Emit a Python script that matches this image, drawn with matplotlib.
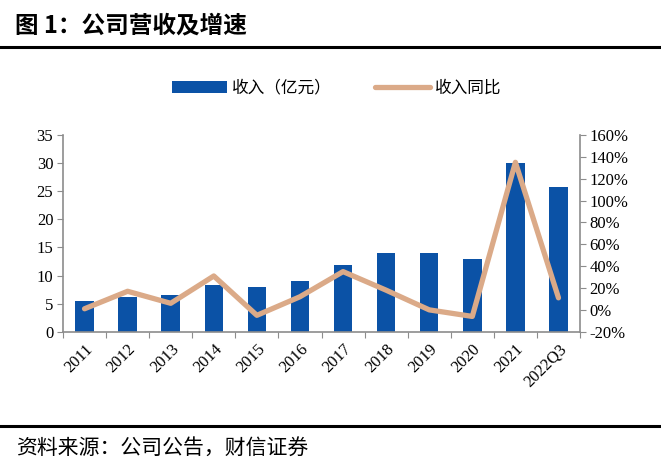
import matplotlib
matplotlib.use("Agg")
import matplotlib.pyplot as plt
import numpy as np
from matplotlib.ticker import FuncFormatter, FixedLocator

categories = ["2011", "2012", "2013", "2014", "2015", "2016", "2017", "2018",
              "2019", "2020", "2021", "2022Q3"]
revenue = [5.5, 6.2, 6.5, 8.3, 8.0, 9.0, 11.9, 14.0, 14.0, 12.9, 30.0, 25.7]
growth = [1, 17, 6, 31, -5, 12, 35, 18, 0, -6, 135, 11]
left_ticks = [0, 5, 10, 15, 20, 25, 30, 35]
right_ticks = [-20, 0, 20, 40, 60, 80, 100, 120, 140, 160]

title = "图 1：公司营收及增速"
source = "资料来源：公司公告，财信证券"
bar_label = "收入（亿元）"
line_label = "收入同比"

cjk = ["Noto Sans CJK SC", "DejaVu Sans"]
serif = ["Liberation Serif", "DejaVu Serif"]

bar_color = "#0B52A6"
line_color = "#DBAA88"
spine_color = "#8C8C8C"

fig = plt.figure(figsize=(6.61, 4.72), dpi=100)
ax = fig.add_axes([0.0953, 0.2972, 0.7822, 0.4168])
ax2 = ax.twinx()

x = np.arange(len(categories))
bars = ax.bar(x, revenue, width=0.43, color=bar_color, zorder=2)
line, = ax2.plot(x, growth, color=line_color, lw=3.8, solid_capstyle="round",
                 solid_joinstyle="round", zorder=3)

ax.set_xlim(-0.5, len(categories) - 0.5)
ax.set_ylim(0, 35)
ax2.set_ylim(-20, 160)
ax.set_yticks(left_ticks)
ax2.set_yticks(right_ticks)
ax2.yaxis.set_major_formatter(FuncFormatter(lambda v, p: f"{int(v)}%"))

ax.xaxis.set_major_locator(FixedLocator(np.arange(-0.5, len(categories), 1.0)))
ax.set_xticklabels([])
ax.xaxis.set_minor_locator(FixedLocator(x))
ax.set_xticklabels(categories, minor=True, rotation=45, ha="right",
                   rotation_mode="anchor", fontfamily=serif, fontsize=12)
ax.tick_params(axis="x", which="minor", length=0, pad=7)
ax.tick_params(axis="x", which="major", length=4, color=spine_color, direction="out")

for a in (ax, ax2):
    a.spines["top"].set_visible(False)
    for s in ("left", "right", "bottom"):
        a.spines[s].set_color(spine_color)
        a.spines[s].set_linewidth(1.2)
ax.spines["right"].set_visible(False)
ax2.spines["left"].set_visible(False)
ax2.spines["bottom"].set_visible(False)

ax.tick_params(axis="y", length=4, color=spine_color, labelsize=12, pad=3)
ax2.tick_params(axis="y", length=4, color=spine_color, labelsize=12, pad=3)
for lab in ax.get_yticklabels() + ax2.get_yticklabels():
    lab.set_fontfamily(serif)

ax.set_zorder(ax2.get_zorder() - 1)
ax2.patch.set_visible(False)
ax.patch.set_visible(True)

leg = fig.legend([bars, line], [bar_label, line_label], loc="center",
                 bbox_to_anchor=(0.510, 0.813), ncol=2, frameon=False,
                 prop={"family": cjk, "size": 12}, handlelength=3.3,
                 handleheight=0.8, columnspacing=2.6, handletextpad=0.3)

fig.text(0.022, 0.947, title, fontsize=17, fontweight="bold", fontfamily=cjk,
         ha="left", va="center")
fig.add_artist(plt.Line2D([0, 1], [0.901, 0.901], color="black", lw=2.2,
                          transform=fig.transFigure))
fig.add_artist(plt.Line2D([0, 1], [0.097, 0.097], color="black", lw=2.2,
                          transform=fig.transFigure))
fig.text(0.024, 0.051, source, fontsize=15, fontfamily=cjk, ha="left",
         va="center", style="italic")

fig.savefig("out.png", dpi=100)
